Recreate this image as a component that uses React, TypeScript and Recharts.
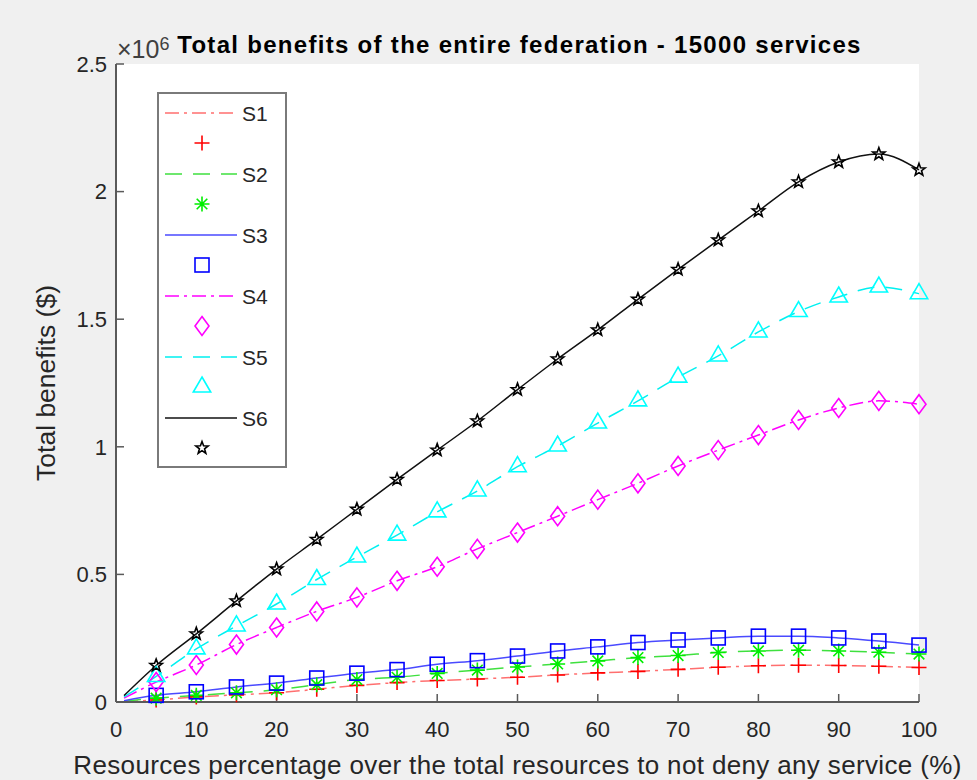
import React from 'react';
import { LineChart, Line, XAxis, YAxis, CartesianGrid, Legend } from 'recharts';

// values are in units of 10^6 $
const xValues = [1, 5, 10, 15, 20, 25, 30, 35, 40, 45, 50, 55, 60, 65, 70, 75, 80, 85, 90, 95, 100];
const s1 = [0.002, 0.008, 0.02, 0.028, 0.036, 0.05, 0.065, 0.076, 0.084, 0.09, 0.097, 0.106, 0.114, 0.12, 0.128, 0.136, 0.142, 0.144, 0.143, 0.14, 0.135];
const s2 = [0.003, 0.015, 0.026, 0.036, 0.048, 0.068, 0.088, 0.097, 0.112, 0.125, 0.137, 0.149, 0.161, 0.174, 0.182, 0.194, 0.2, 0.203, 0.2, 0.195, 0.188];
const s3 = [0.005, 0.026, 0.04, 0.059, 0.074, 0.094, 0.113, 0.127, 0.148, 0.162, 0.18, 0.2, 0.216, 0.233, 0.243, 0.251, 0.258, 0.258, 0.251, 0.239, 0.223];
const s4 = [0.015, 0.078, 0.145, 0.225, 0.292, 0.355, 0.41, 0.475, 0.53, 0.6, 0.664, 0.728, 0.793, 0.857, 0.925, 0.987, 1.046, 1.105, 1.152, 1.18, 1.167];
const s5 = [0.02, 0.1, 0.208, 0.298, 0.384, 0.48, 0.568, 0.654, 0.745, 0.827, 0.922, 1.003, 1.093, 1.18, 1.273, 1.356, 1.45, 1.53, 1.587, 1.626, 1.6];
const s6 = [0.025, 0.143, 0.267, 0.396, 0.521, 0.637, 0.755, 0.872, 0.987, 1.101, 1.224, 1.344, 1.458, 1.578, 1.695, 1.81, 1.924, 2.038, 2.116, 2.147, 2.085];

const xTicks = [0, 10, 20, 30, 40, 50, 60, 70, 80, 90, 100];
const yTicks = [0, 0.5, 1, 1.5, 2, 2.5];

type Shape = 'plus' | 'asterisk' | 'square' | 'diamond' | 'triangle' | 'star';

const series: { key: string; values: number[]; line: string; marker: string; dash?: string; shape: Shape }[] = [
  { key: 'S1', values: s1, line: '#ff6f6f', marker: '#ff0000', dash: '14 5 3 5', shape: 'plus' },
  { key: 'S2', values: s2, line: '#3fe03f', marker: '#00ee00', dash: '17 11', shape: 'asterisk' },
  { key: 'S3', values: s3, line: '#4a4aff', marker: '#0000ff', shape: 'square' },
  { key: 'S4', values: s4, line: '#ff00ff', marker: '#ff00ff', dash: '14 5 3 5', shape: 'diamond' },
  { key: 'S5', values: s5, line: '#00f0f0', marker: '#00ffff', dash: '17 11', shape: 'triangle' },
  { key: 'S6', values: s6, line: '#111111', marker: '#000000', shape: 'star' },
];

const data = xValues.map((x, i) => {
  const row: Record<string, number> = { x };
  series.forEach(s => { row[s.key] = s.values[i]; });
  return row;
});

const Marker = ({ shape, color, cx, cy }: { shape: Shape; color: string; cx: number; cy: number }) => {
  const p = { stroke: color, strokeWidth: 1.6, fill: 'none' };
  if (shape === 'plus') {
    return <path d={`M${cx - 7.5},${cy}H${cx + 7.5}M${cx},${cy - 7.5}V${cy + 7.5}`} {...p} />;
  }
  if (shape === 'asterisk') {
    const d = 5.3;
    return (
      <path
        d={`M${cx - 7.5},${cy}H${cx + 7.5}M${cx},${cy - 7.5}V${cy + 7.5}M${cx - d},${cy - d}L${cx + d},${cy + d}M${cx - d},${cy + d}L${cx + d},${cy - d}`}
        {...p}
      />
    );
  }
  if (shape === 'square') return <rect x={cx - 7} y={cy - 7} width={14} height={14} {...p} />;
  if (shape === 'diamond') {
    return <path d={`M${cx},${cy - 9.5}L${cx + 7},${cy}L${cx},${cy + 9.5}L${cx - 7},${cy}Z`} {...p} />;
  }
  if (shape === 'triangle') {
    return <path d={`M${cx},${cy - 10}L${cx + 8.7},${cy + 5}L${cx - 8.7},${cy + 5}Z`} {...p} />;
  }
  const pts: string[] = [];
  for (let k = 0; k < 10; k++) {
    const r = k % 2 === 0 ? 6.5 : 2.7;
    const a = -Math.PI / 2 + (k * Math.PI) / 5;
    pts.push(`${cx + r * Math.cos(a)},${cy + r * Math.sin(a)}`);
  }
  return <polygon points={pts.join(' ')} {...p} />;
};

const makeDot = (shape: Shape, color: string) => (props: any) => {
  const { cx, cy, payload, index } = props;
  const key = `${shape}-${index}`;
  if (cx == null || cy == null || payload.x % 5 !== 0) return <g key={key} />;
  return (
    <g key={key}>
      <Marker shape={shape} color={color} cx={cx} cy={cy} />
    </g>
  );
};

const font = 'Liberation Sans, Arial, sans-serif';

const FigureLegend = () => (
  <div style={{ width: 130, height: 376, boxSizing: 'border-box', border: '2px solid #7a7a7a', background: '#fff' }}>
    <svg width={126} height={372}>
      {series.map((s, i) => {
        const y = 19 + i * 61;
        return (
          <g key={s.key}>
            <line x1={6} x2={78} y1={y} y2={y} stroke={s.line} strokeWidth={1.5} strokeDasharray={s.dash} />
            <text x={83} y={y + 7.5} fontSize={21} fill="#262626" fontFamily={font}>
              {s.key}
            </text>
            <Marker shape={s.shape} color={s.marker} cx={43} cy={y + 30} />
          </g>
        );
      })}
    </svg>
  </div>
);

export default function App() {
  return (
    <div style={{ position: 'absolute', left: 0, top: 0, width: 977, height: 780, background: '#f0f0f0', fontFamily: font }}>
      <LineChart width={977} height={780} data={data} margin={{ top: 64, right: 58, left: 0, bottom: 0 }}>
        <CartesianGrid horizontal={false} vertical={false} fill="#ffffff" />
        <XAxis
          dataKey="x"
          type="number"
          domain={[0, 100]}
          ticks={xTicks}
          height={78}
          tickSize={-8}
          tickMargin={27}
          axisLine={{ stroke: '#5a5a5a', strokeWidth: 2 }}
          tickLine={{ stroke: '#5a5a5a', strokeWidth: 1.5 }}
          tick={{ fontSize: 22, fill: '#262626', fontFamily: font }}
          label={{
            value: 'Resources percentage over the total resources to not deny any service (%)',
            position: 'insideBottom',
            offset: 6,
            fontSize: 26,
            fill: '#262626',
            fontFamily: font,
            style: { letterSpacing: 0.35 },
          }}
        />
        <YAxis
          type="number"
          domain={[0, 2.5]}
          ticks={yTicks}
          width={116}
          tickSize={-8}
          tickMargin={17}
          axisLine={{ stroke: '#5a5a5a', strokeWidth: 2 }}
          tickLine={{ stroke: '#5a5a5a', strokeWidth: 1.5 }}
          tick={{ fontSize: 22, fill: '#262626', fontFamily: font }}
          label={{
            value: 'Total benefits ($)',
            angle: -90,
            position: 'insideLeft',
            offset: 46,
            fontSize: 26.5,
            fill: '#262626',
            fontFamily: font,
            style: { textAnchor: 'middle' },
          }}
        />
        <Legend
          layout="vertical"
          align="center"
          verticalAlign="middle"
          wrapperStyle={{ left: 157, top: 92, width: 130, height: 376 }}
          content={() => <FigureLegend />}
        />
        {series.map(s => (
          <Line
            key={s.key}
            dataKey={s.key}
            type="monotone"
            stroke={s.line}
            strokeWidth={1.5}
            strokeDasharray={s.dash}
            dot={makeDot(s.shape, s.marker)}
            activeDot={false}
            isAnimationActive={false}
          />
        ))}
      </LineChart>
      <div style={{ position: 'absolute', left: 117, top: 37, fontSize: 25, lineHeight: '25px', color: '#404040', whiteSpace: 'nowrap' }}>
        ×10<span style={{ position: 'relative', top: -8, fontSize: 18 }}>6</span>
      </div>
      <div
        style={{
          position: 'absolute',
          left: 31,
          width: 977,
          top: 33,
          textAlign: 'center',
          fontSize: 24,
          lineHeight: '24px',
          fontWeight: 'bold',
          letterSpacing: 1.3,
          color: '#000',
          whiteSpace: 'nowrap',
        }}
      >
        Total benefits of the entire federation - 15000 services
      </div>
    </div>
  );
}
